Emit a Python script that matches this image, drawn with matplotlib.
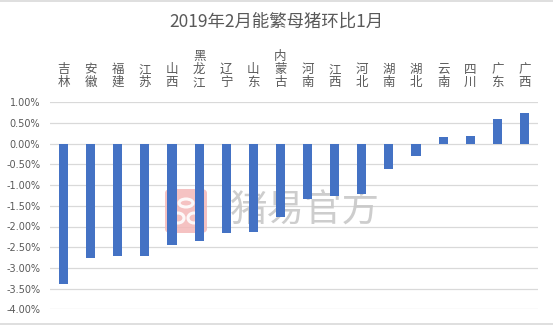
import matplotlib
matplotlib.use("Agg")
import matplotlib.pyplot as plt
from matplotlib.patches import FancyBboxPatch, Ellipse
from matplotlib.lines import Line2D
import numpy as np

plt.rcParams['font.family'] = ['Noto Sans CJK SC', 'DejaVu Sans']

title = "2019年2月能繁母猪环比1月"
provinces = ["吉林", "安徽", "福建", "江苏", "山西", "黑龙江", "辽宁", "山东", "内蒙古",
             "河南", "江西", "河北", "湖南", "湖北", "云南", "四川", "广东", "广西"]
values = [-3.40, -2.76, -2.71, -2.71, -2.44, -2.35, -2.15, -2.13, -1.77,
          -1.33, -1.26, -1.21, -0.61, -0.29, 0.16, 0.18, 0.59, 0.74]
yticks = [1.0, 0.5, 0.0, -0.5, -1.0, -1.5, -2.0, -2.5, -3.0, -3.5, -4.0]
watermark = "猪易官方"

W, H = 553, 325
fig = plt.figure(figsize=(W / 100, H / 100), dpi=100)
ax = fig.add_axes([50 / W, 1 - 309.3 / H, (538 - 50) / W, (309.3 - 102.3) / H])

x = np.arange(len(provinces))
ax.bar(x, values, width=0.34, color="#4472C4", zorder=3)
ax.set_xlim(-0.5, len(provinces) - 0.5)
ax.set_ylim(-4.0, 1.0)
ax.set_yticks(yticks)
ax.set_yticklabels([f"{v:.2f}%" for v in yticks], fontsize=7, color="#595959",
                   family=['DejaVu Sans'])
ax.tick_params(axis='y', length=0, pad=7)
ax.set_xticks([])
ax.grid(axis='y', color="#d9d9d9", linewidth=0.9, zorder=0)
ax.set_axisbelow(True)
for s in ax.spines.values():
    s.set_visible(False)

# category labels stacked vertically above plot
for i, name in enumerate(provinces):
    xf = ax.transData.transform((i, 0))[0] / W
    fig.text(xf, 1 - 89 / H, "\n".join(list(name)), ha='center', va='bottom',
             fontsize=9, color="#595959", linespacing=1.0)

fig.text(0.5, 1 - 22 / H, title, ha='center', va='center', fontsize=12.5, color="#595959")

# watermark logo (drawn inside the axes, below the bars)
logo = FancyBboxPatch((165 / W, 1 - 233 / H), 42 / W, 44 / H,
                      boxstyle="round,pad=0,rounding_size=0.012",
                      transform=fig.transFigure, facecolor="#f4b8b8", edgecolor='none',
                      alpha=0.85, zorder=2, clip_on=False)
ax.add_patch(logo)
for (cx, cy, w, h) in [(186, 203, 14, 8), (178, 218, 12, 10), (194, 218, 12, 10)]:
    ax.add_patch(Ellipse((cx / W, 1 - cy / H), w / W, h / H, transform=fig.transFigure,
                         facecolor='none', edgecolor='white', linewidth=2.2, alpha=0.9,
                         zorder=2.1, clip_on=False))
ax.text(305 / W, 1 - 211 / H, watermark, ha='center', va='center', fontsize=27,
        color="#c8c8c8", alpha=0.9, zorder=2, transform=fig.transFigure)

# figure border lines
fig.add_artist(Line2D([0, 1], [1 - 1 / H, 1 - 1 / H], transform=fig.transFigure,
                      color="#d9d9d9", linewidth=1.2))
fig.add_artist(Line2D([0, 1], [1 - 323.5 / H, 1 - 323.5 / H], transform=fig.transFigure,
                      color="#d9d9d9", linewidth=1.2))

fig.savefig("out.png", dpi=100, facecolor="white")
